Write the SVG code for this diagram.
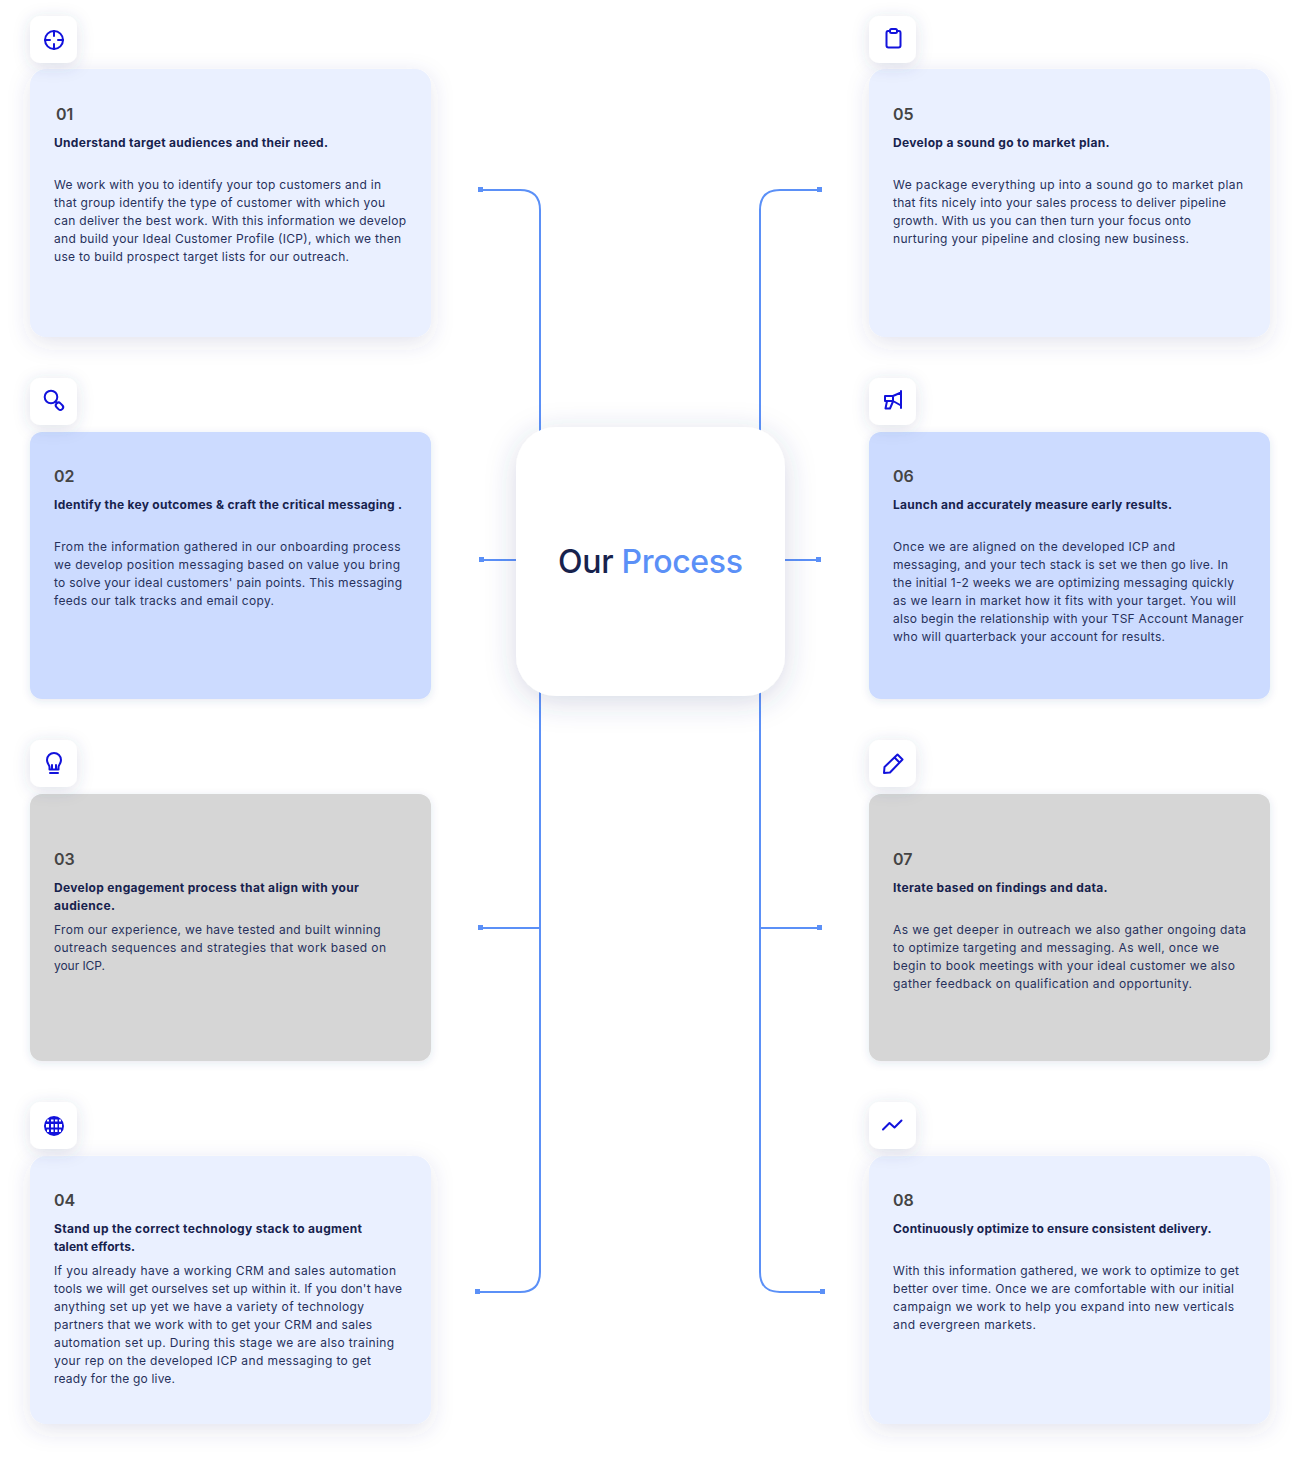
<svg xmlns="http://www.w3.org/2000/svg" width="1300" height="1457" viewBox="0 0 1300 1457">
<style>
text{font-family:"Inter","Open Sans","Liberation Sans",sans-serif}
.n{font-size:16px;font-weight:600;fill:#444444}
.t{font-size:12px;font-weight:700;fill:#17224d}
.b{font-size:12px;font-weight:400;fill:#27315c}
.c{fill:none;stroke:#5b90f7;stroke-width:2}
.s{fill:#5b90f7}
.i{fill:none;stroke:#1212dc;stroke-width:2;stroke-linecap:round;stroke-linejoin:round}
.ib{fill:#fff;filter:url(#sm)}
.big{filter:url(#lg)}
.flat{filter:url(#fl)}
</style>
<defs>
<filter id="lg" x="-20%" y="-20%" width="140%" height="140%"><feDropShadow dx="0" dy="6" stdDeviation="11" flood-color="#3a4a80" flood-opacity="0.14"/></filter>
<filter id="ct" x="-30%" y="-30%" width="160%" height="160%"><feDropShadow dx="0" dy="6" stdDeviation="15" flood-color="#3a4a80" flood-opacity="0.2"/></filter>
<filter id="sm" x="-60%" y="-60%" width="220%" height="220%"><feDropShadow dx="0" dy="3" stdDeviation="8" flood-color="#3a4a80" flood-opacity="0.17"/></filter>
<filter id="fl" x="-10%" y="-10%" width="120%" height="120%"><feDropShadow dx="0" dy="2" stdDeviation="4" flood-color="#3a4a80" flood-opacity="0.12"/></filter>
</defs>
<rect width="1300" height="1457" fill="#fff"/>
<g id="connectors">
<path class="c" d="M480 190H520Q540 190 540 210V1272Q540 1292 520 1292H478"/>
<path class="c" d="M820 190H780Q760 190 760 210V1272Q760 1292 780 1292H823"/>
<path class="c" d="M481 560H540M760 560H820M480 928H540M760 928H820"/>
<rect class="s" x="478" y="187" width="5" height="5"/><rect class="s" x="817" y="187" width="5" height="5"/>
<rect class="s" x="479" y="557" width="5" height="5"/><rect class="s" x="816" y="557" width="5" height="5"/>
<rect class="s" x="478" y="925" width="5" height="5"/><rect class="s" x="817" y="925" width="5" height="5"/>
<rect class="s" x="475" y="1289" width="5" height="5"/><rect class="s" x="820" y="1289" width="5" height="5"/>
</g>
<g id="center">
<rect x="516" y="427" width="269" height="269" rx="40" fill="#fff" filter="url(#ct)"/>
<text x="558" y="573" font-size="32" font-weight="500" textLength="185" lengthAdjust="spacing" fill="#17224d">Our <tspan fill="#5b90f7">Process</tspan></text>
</g>
<g id="step-01">
<rect class="big" x="30" y="69" width="401" height="268" rx="16" fill="#eaf0ff"/>
<rect class="ib" x="30" y="16" width="47" height="47" rx="10"/>
<g class="i"><circle cx="54" cy="40" r="9"/><path d="M54 31V36M54 44V49M45 40H50M58 40H63"/></g>
<text class="n" x="56" y="120">01</text>
<text class="t" x="54" y="147" textLength="274" lengthAdjust="spacing">Understand target audiences and their need.</text>
<text class="b" x="54" y="189" textLength="327" lengthAdjust="spacing">We work with you to identify your top customers and in</text>
<text class="b" x="54" y="207" textLength="331" lengthAdjust="spacing">that group identify the type of customer with which you</text>
<text class="b" x="54" y="225" textLength="352" lengthAdjust="spacing">can deliver the best work. With this information we develop</text>
<text class="b" x="54" y="243" textLength="347" lengthAdjust="spacing">and build your Ideal Customer Profile (ICP), which we then</text>
<text class="b" x="54" y="261" textLength="295" lengthAdjust="spacing">use to build prospect target lists for our outreach.</text>
</g>
<g id="step-02">
<rect class="flat" x="30" y="432" width="401" height="267" rx="12" fill="#ccdbff"/>
<rect class="ib" x="30" y="378" width="47" height="47" rx="10"/>
<g class="i"><circle cx="51" cy="397" r="6.3"/><path d="M55.5 401.5L57 403"/><rect x="55.5" y="403.500" width="8" height="5.500" rx="2.700" transform="rotate(45 59.500 406.200)"/></g>
<text class="n" x="54" y="482">02</text>
<text class="t" x="54" y="509" textLength="348" lengthAdjust="spacing">Identify the key outcomes &amp; craft the critical messaging .</text>
<text class="b" x="54" y="551" textLength="346.500" lengthAdjust="spacing">From the information gathered in our onboarding process</text>
<text class="b" x="54" y="569" textLength="346" lengthAdjust="spacing">we develop position messaging based on value you bring</text>
<text class="b" x="54" y="587" textLength="348" lengthAdjust="spacing">to solve your ideal customers' pain points. This messaging</text>
<text class="b" x="54" y="605" textLength="220" lengthAdjust="spacing">feeds our talk tracks and email copy.</text>
</g>
<g id="step-03">
<rect class="flat" x="30" y="794" width="401" height="267" rx="12" fill="#d6d6d6"/>
<rect class="ib" x="30" y="740" width="47" height="47" rx="10"/>
<g class="i"><path d="M49.500 769.500V767C49.500 765 47 763.500 47 760A7 7 0 0 1 61 760C61 763.500 58.500 765 58.500 767V769.500ZM50 773H58M52 769V765M56 769V765"/></g>
<text class="n" x="54" y="865">03</text>
<text class="t" x="54" y="892" textLength="305" lengthAdjust="spacing">Develop engagement process that align with your</text>
<text class="t" x="54" y="910" textLength="61" lengthAdjust="spacing">audience.</text>
<text class="b" x="54" y="934" textLength="326.500" lengthAdjust="spacing">From our experience, we have tested and built winning</text>
<text class="b" x="54" y="952" textLength="332" lengthAdjust="spacing">outreach sequences and strategies that work based on</text>
<text class="b" x="54" y="970" textLength="51" lengthAdjust="spacing">your ICP.</text>
</g>
<g id="step-04">
<rect class="big" x="30" y="1156" width="401" height="268" rx="16" fill="#eaf0ff"/>
<rect class="ib" x="30" y="1102" width="47" height="47" rx="10"/>
<circle cx="54" cy="1126" r="10" fill="#1212dc"/>
<g fill="#fff"><rect x="47" y="1119.500" width="2" height="2"/><rect x="51" y="1119.500" width="2.500" height="2"/><rect x="55" y="1119.500" width="2.500" height="2"/><rect x="59" y="1119.500" width="2" height="2"/><rect x="46" y="1124" width="3" height="3.500"/><rect x="51" y="1124" width="2.500" height="3.500"/><rect x="55" y="1124" width="2.500" height="3.500"/><rect x="59" y="1124" width="3" height="3.500"/><rect x="47" y="1129.500" width="2" height="2.500"/><rect x="51" y="1129.500" width="2.500" height="2.500"/><rect x="55" y="1129.500" width="2.500" height="2.500"/><rect x="59" y="1129.500" width="2" height="2.500"/></g>
<text class="n" x="54" y="1206">04</text>
<text class="t" x="54" y="1233" textLength="308" lengthAdjust="spacing">Stand up the correct technology stack to augment</text>
<text class="t" x="54" y="1251" textLength="81" lengthAdjust="spacing">talent efforts.</text>
<text class="b" x="54" y="1275" textLength="342" lengthAdjust="spacing">If you already have a working CRM and sales automation</text>
<text class="b" x="54" y="1293" textLength="348" lengthAdjust="spacing">tools we will get ourselves set up within it. If you don't have</text>
<text class="b" x="54" y="1311" textLength="310" lengthAdjust="spacing">anything set up yet we have a variety of technology</text>
<text class="b" x="54" y="1329" textLength="318" lengthAdjust="spacing">partners that we work with to get your CRM and sales</text>
<text class="b" x="54" y="1347" textLength="340" lengthAdjust="spacing">automation set up. During this stage we are also training</text>
<text class="b" x="54" y="1365" textLength="317" lengthAdjust="spacing">your rep on the developed ICP and messaging to get</text>
<text class="b" x="54" y="1383" textLength="121" lengthAdjust="spacing">ready for the go live.</text>
</g>
<g id="step-05">
<rect class="big" x="869" y="69" width="401" height="268" rx="16" fill="#eaf0ff"/>
<rect class="ib" x="869" y="16" width="47" height="47" rx="10"/>
<g class="i"><path d="M890 31H888Q886.500 31 886.500 33V45.500Q886.500 47.500 888.500 47.500H898.500Q900.500 47.500 900.500 45.500V33Q900.500 31 899 31H897"/><rect x="890" y="29" width="7" height="4" rx="1.500"/></g>
<text class="n" x="893" y="120">05</text>
<text class="t" x="893" y="147" textLength="216.500" lengthAdjust="spacing">Develop a sound go to market plan.</text>
<text class="b" x="893" y="189" textLength="350" lengthAdjust="spacing">We package everything up into a sound go to market plan</text>
<text class="b" x="893" y="207" textLength="333" lengthAdjust="spacing">that fits nicely into your sales process to deliver pipeline</text>
<text class="b" x="893" y="225" textLength="298" lengthAdjust="spacing">growth. With us you can then turn your focus onto</text>
<text class="b" x="893" y="243" textLength="296" lengthAdjust="spacing">nurturing your pipeline and closing new business.</text>
</g>
<g id="step-06">
<rect class="flat" x="869" y="432" width="401" height="267" rx="12" fill="#ccdbff"/>
<rect class="ib" x="869" y="378" width="47" height="47" rx="10"/>
<g class="i"><path d="M901 391V408M901 392.500L893 396H885V401H893L901 405.500M893 396V401M887 401L885.500 408.500H890L893 401.500"/></g>
<text class="n" x="893" y="482">06</text>
<text class="t" x="893" y="509" textLength="279" lengthAdjust="spacing">Launch and accurately measure early results.</text>
<text class="b" x="893" y="551" textLength="282" lengthAdjust="spacing">Once we are aligned on the developed ICP and</text>
<text class="b" x="893" y="569" textLength="335" lengthAdjust="spacing">messaging, and your tech stack is set we then go live. In</text>
<text class="b" x="893" y="587" textLength="341" lengthAdjust="spacing">the initial 1-2 weeks we are optimizing messaging quickly</text>
<text class="b" x="893" y="605" textLength="343" lengthAdjust="spacing">as we learn in market how it fits with your target. You will</text>
<text class="b" x="893" y="623" textLength="350.500" lengthAdjust="spacing">also begin the relationship with your TSF Account Manager</text>
<text class="b" x="893" y="641" textLength="272" lengthAdjust="spacing">who will quarterback your account for results.</text>
</g>
<g id="step-07">
<rect class="flat" x="869" y="794" width="401" height="267" rx="12" fill="#d6d6d6"/>
<rect class="ib" x="869" y="740" width="47" height="47" rx="10"/>
<g class="i"><path d="M884 773L884.500 767L897.500 754.500L902.500 759.500L890 772.500ZM894.500 757.500L899.500 762.500"/></g>
<text class="n" x="893" y="865">07</text>
<text class="t" x="893" y="892" textLength="214.500" lengthAdjust="spacing">Iterate based on findings and data.</text>
<text class="b" x="893" y="934" textLength="353" lengthAdjust="spacing">As we get deeper in outreach we also gather ongoing data</text>
<text class="b" x="893" y="952" textLength="326" lengthAdjust="spacing">to optimize targeting and messaging. As well, once we</text>
<text class="b" x="893" y="970" textLength="342" lengthAdjust="spacing">begin to book meetings with your ideal customer we also</text>
<text class="b" x="893" y="988" textLength="299" lengthAdjust="spacing">gather feedback on qualification and opportunity.</text>
</g>
<g id="step-08">
<rect class="big" x="869" y="1156" width="401" height="268" rx="16" fill="#eaf0ff"/>
<rect class="ib" x="869" y="1102" width="47" height="47" rx="10"/>
<g class="i"><path d="M883 1129.500L889.500 1123L894.500 1127.500L901.500 1120.500"/></g>
<text class="n" x="893" y="1206">08</text>
<text class="t" x="893" y="1233" textLength="318.500" lengthAdjust="spacing">Continuously optimize to ensure consistent delivery.</text>
<text class="b" x="893" y="1275" textLength="346" lengthAdjust="spacing">With this information gathered, we work to optimize to get</text>
<text class="b" x="893" y="1293" textLength="341" lengthAdjust="spacing">better over time. Once we are comfortable with our initial</text>
<text class="b" x="893" y="1311" textLength="341" lengthAdjust="spacing">campaign we work to help you expand into new verticals</text>
<text class="b" x="893" y="1329" textLength="143" lengthAdjust="spacing">and evergreen markets.</text>
</g>
</svg>
